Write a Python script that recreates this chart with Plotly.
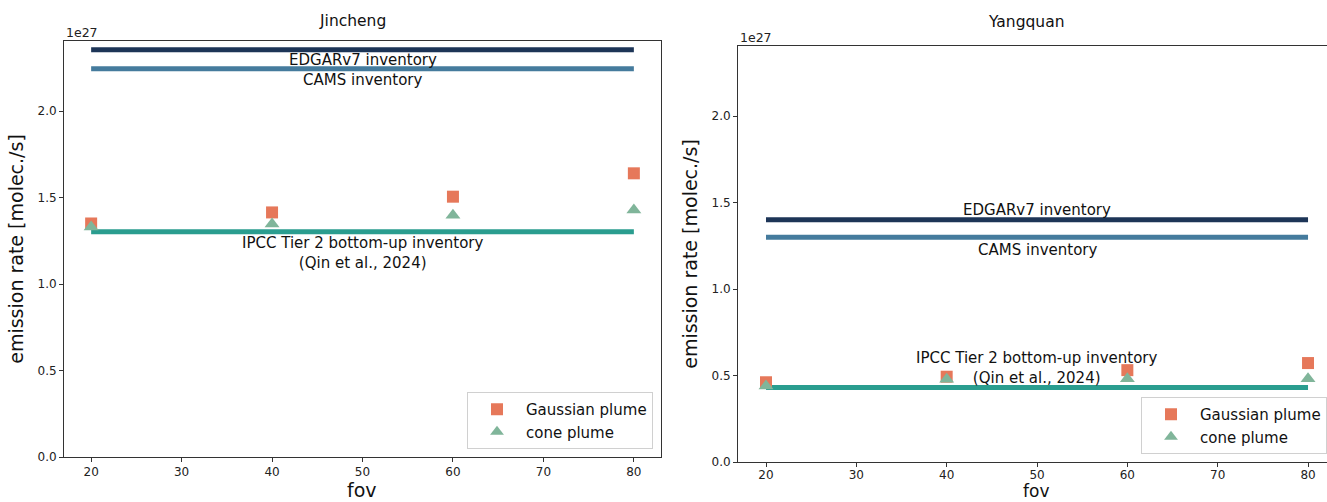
import plotly.graph_objects as go

# ---------------- data (emission rate in units of 1e27 molec./s) ----------------
fov = [20, 40, 60, 80]

jin_gauss = [1.350, 1.414, 1.505, 1.640]
jin_cone = [1.329, 1.347, 1.397, 1.428]
jin_edgar = 2.355
jin_cams = 2.245
jin_ipcc = 1.302

yq_gauss = [0.461, 0.493, 0.531, 0.572]
yq_cone = [0.439, 0.478, 0.481, 0.481]
yq_edgar = 1.400
yq_cams = 1.300
yq_ipcc = 0.430

titles = ["Jincheng", "Yangquan"]
x_ticks = [20, 30, 40, 50, 60, 70, 80]
y_ticks = [0.0, 0.5, 1.0, 1.5, 2.0]

# ---------------- style ----------------
FONT = "DejaVu Sans"
C_EDGAR = "#1d3557"
C_CAMS = "#457b9d"
C_IPCC = "#2a9d8f"
C_GAUSS = "#e6785a"
C_CONE = "#80b59a"
W, H = 1327, 502

fig = go.Figure()


def add_panel(idx, gauss, cone, edgar, cams, ipcc, legend_name):
    xa = "x" if idx == 1 else "x2"
    ya = "y" if idx == 1 else "y2"
    for val, col in [(edgar, C_EDGAR), (cams, C_CAMS), (ipcc, C_IPCC)]:
        fig.add_trace(go.Scatter(x=[fov[0], fov[-1]], y=[val, val], mode="lines",
                                 line=dict(color=col, width=5), showlegend=False,
                                 hoverinfo="skip", xaxis=xa, yaxis=ya))
    fig.add_trace(go.Scatter(x=fov, y=gauss, mode="markers", name="Gaussian plume",
                             marker=dict(symbol="square", size=12, color=C_GAUSS,
                                         line=dict(width=0)),
                             legend=legend_name, xaxis=xa, yaxis=ya))
    fig.add_trace(go.Scatter(x=fov, y=cone, mode="markers", name="cone plume",
                             marker=dict(symbol="triangle-up", size=13, color=C_CONE,
                                         line=dict(width=0)),
                             legend=legend_name, xaxis=xa, yaxis=ya))


add_panel(1, jin_gauss, jin_cone, jin_edgar, jin_cams, jin_ipcc, "legend")
add_panel(2, yq_gauss, yq_cone, yq_edgar, yq_cams, yq_ipcc, "legend2")

# domains (pixel -> paper)
L1 = (64 / W, 661 / W)
V1 = (1 - 457 / H, 1 - 41 / H)
L2 = (738 / W, 1.0)
V2 = (1 - 462 / H, 1 - 46 / H)

axis_common = dict(showline=True, linecolor="#333333", linewidth=1, ticks="outside",
                   ticklen=4, tickcolor="#333333", showgrid=False, zeroline=False,
                   automargin=False,
                   tickfont=dict(family=FONT, size=12, color="#222222"))

legend_common = dict(bgcolor="white", bordercolor="#d0d0d0", borderwidth=1,
                     font=dict(family=FONT, size=15, color="#111111"),
                     itemsizing="constant", itemwidth=48)

fig.update_layout(
    width=W, height=H, margin=dict(l=0, r=0, t=0, b=0, autoexpand=False),
    paper_bgcolor="white", plot_bgcolor="white",
    font=dict(family=FONT, color="#111111"),
    xaxis=dict(domain=L1, range=[17, 83], tickvals=x_ticks, mirror=True, anchor="y",
               **axis_common),
    yaxis=dict(domain=V1, range=[0, 2.405], tickvals=y_ticks, tickformat=".1f", mirror=True,
               anchor="x", title=dict(text="emission rate [molec./s]", font=dict(size=19),
                                      standoff=8), **axis_common),
    xaxis2=dict(domain=L2, range=[16.9, 82.1], tickvals=x_ticks, mirror=True, anchor="y2",
                ticklabelstandoff=-2, **axis_common),
    yaxis2=dict(domain=V2, range=[0, 2.405], tickvals=y_ticks, tickformat=".1f", anchor="x2",
                title=dict(text="emission rate [molec./s]", font=dict(size=19), standoff=8),
                **axis_common),
    legend=dict(x=653 / W, y=1 - 449 / H, xanchor="right", yanchor="bottom", **legend_common),
    legend2=dict(x=1141 / W, y=1 - 454 / H, xanchor="left", yanchor="bottom", **legend_common),
)

ann = []
# titles and 1e27 offsets
title_pos = [(352 / W, V1[1], 9), (1026 / W, V2[1], 13)]
for (tx, ty, ys), t in zip(title_pos, titles):
    ann.append(dict(text=t, x=tx, y=ty, xref="paper", yref="paper", xanchor="center",
                    yanchor="bottom", yshift=ys, showarrow=False,
                    font=dict(family=FONT, size=15.5, color="#111111")))
for lx, vy in [(L1, V1), (L2, V2)]:
    ann.append(dict(text="1e27", x=lx[0], y=vy[1], xref="paper", yref="paper",
                    xanchor="left", yanchor="bottom", yshift=-1, showarrow=False,
                    font=dict(family=FONT, size=12.5, color="#222222")))
# x-axis titles ("fov")
ann.append(dict(text="fov", x=362 / W, y=1 - 477 / H, xref="paper", yref="paper",
                xanchor="center", yanchor="top", showarrow=False,
                font=dict(family=FONT, size=19, color="#111111")))
ann.append(dict(text="fov", x=1036 / W, y=0, xref="paper", yref="paper",
                xanchor="center", yanchor="bottom", showarrow=False, borderpad=0,
                font=dict(family=FONT, size=17, color="#111111")))

lab_font = dict(family=FONT, size=15, color="#111111")
ipcc_text = "IPCC Tier 2 bottom-up inventory<br>(Qin et al., 2024)"
ann += [
    dict(text="EDGARv7 inventory", x=50, y=jin_edgar, xref="x", yref="y", yshift=-10,
         showarrow=False, font=lab_font),
    dict(text="CAMS inventory", x=50, y=jin_cams, xref="x", yref="y", yshift=-11,
         showarrow=False, font=lab_font),
    dict(text=ipcc_text, x=50, y=jin_ipcc, xref="x", yref="y", yshift=-21,
         showarrow=False, font=lab_font),
    dict(text="EDGARv7 inventory", x=50, y=yq_edgar, xref="x2", yref="y2", yshift=10,
         showarrow=False, font=lab_font),
    dict(text="CAMS inventory", x=50, y=yq_cams, xref="x2", yref="y2", yshift=-13,
         showarrow=False, font=lab_font),
    dict(text=ipcc_text, x=50, y=yq_ipcc, xref="x2", yref="y2", yshift=20,
         showarrow=False, font=lab_font),
]
fig.update_layout(annotations=ann)

fig.write_html("out.html")
